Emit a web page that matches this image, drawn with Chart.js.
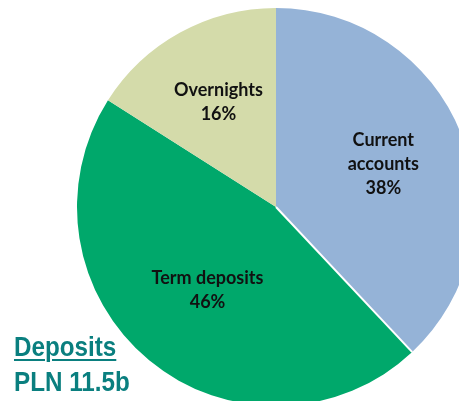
<!DOCTYPE html>
<html>
<head>
<meta charset="utf-8">
<script src="https://cdn.jsdelivr.net/npm/chart.js@4/dist/chart.umd.min.js"></script>
<style>
  html, body { margin: 0; padding: 0; background: #fff; overflow: hidden; width: 459px; height: 401px; }
  #wrap { position: absolute; left: 0; top: 0; width: 552px; height: 414px; }
  #title {
    position: absolute; left: 14px; top: 329px;
    font-family: "Liberation Sans Narrow", "Arial Narrow", "Liberation Sans", sans-serif;
    font-weight: bold; font-size: 28px; line-height: 35px; color: #0a7f7f;
    transform: scaleX(0.865); transform-origin: 0 0;
  }
  #title .u { text-decoration: underline; text-decoration-thickness: 2px; text-underline-offset: 3px; }
</style>
</head>
<body>
<div id="wrap"><canvas id="pie" width="552" height="414"></canvas></div>
<div id="title"><span class="u">Deposits</span><br>PLN 11.5b</div>
<script>
  const labels = [["Current", "accounts"], ["Term deposits"], ["Overnights"]];
  const shares = [38, 46, 16];
  const colors = ["#95b3d7", "#00a86b", "#d4dbaa"];
  const labelDepth = [0.58, 0.54, 0.6];

  // slice labels drawn inside each arc, along its middle angle
  const sliceLabels = {
    id: "sliceLabels",
    afterDatasetsDraw(chart) {
      const ctx = chart.ctx;
      const meta = chart.getDatasetMeta(0);
      ctx.save();
      ctx.font = "bold 18px Lato, 'Open Sans', sans-serif";
      ctx.fillStyle = "#111";
      ctx.textAlign = "center";
      ctx.textBaseline = "middle";
      meta.data.forEach((arc, i) => {
        const p = arc.getProps(["x", "y", "startAngle", "endAngle", "outerRadius"], true);
        const mid = (p.startAngle + p.endAngle) / 2;
        const r = p.outerRadius * labelDepth[i];
        const cx = p.x + Math.cos(mid) * r;
        const cy = p.y + Math.sin(mid) * r;
        const lines = labels[i].concat([shares[i] + "%"]);
        const lh = 24;
        lines.forEach((t, k) => {
          ctx.fillText(t, cx, cy + (k - (lines.length - 1) / 2) * lh);
        });
      });
      // thin white seam between the first and second slice
      const a = meta.data[0].getProps(["x", "y", "endAngle", "outerRadius"], true);
      ctx.strokeStyle = "#ffffff";
      ctx.lineWidth = 2;
      ctx.beginPath();
      ctx.moveTo(a.x, a.y);
      ctx.lineTo(a.x + Math.cos(a.endAngle) * a.outerRadius, a.y + Math.sin(a.endAngle) * a.outerRadius);
      ctx.stroke();
      ctx.restore();
    }
  };

  new Chart(document.getElementById("pie"), {
    type: "pie",
    data: {
      labels: labels.map((l) => l.join(" ")),
      datasets: [{
        data: shares,
        backgroundColor: colors,
        borderWidth: 0,
        hoverOffset: 0
      }]
    },
    options: {
      responsive: false,
      animation: false,
      layout: { padding: 8 },
      events: [],
      plugins: {
        legend: { display: false },
        tooltip: { enabled: false }
      }
    },
    plugins: [sliceLabels]
  });
</script>
</body>
</html>
